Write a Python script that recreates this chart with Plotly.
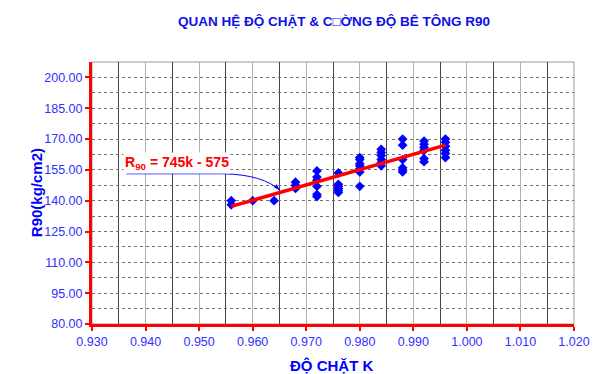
import plotly.graph_objects as go

# Compaction (K) vs 90-day concrete strength R90 (kg/cm2)
k_values = [0.956, 0.956,
            0.960,
            0.964,
            0.968, 0.968, 0.968,
            0.972, 0.972, 0.972, 0.972, 0.972, 0.972,
            0.976, 0.976, 0.976, 0.976, 0.976, 0.976,
            0.980, 0.980, 0.980, 0.980, 0.980, 0.980, 0.980,
            0.984, 0.984, 0.984, 0.984, 0.984, 0.984,
            0.988, 0.988, 0.988, 0.988, 0.988, 0.988,
            0.992, 0.992, 0.992, 0.992, 0.992, 0.992,
            0.996, 0.996, 0.996, 0.996, 0.996, 0.996]
r90_values = [140.0, 138.0,
              140.0,
              140.0,
              149.0, 147.5, 146.0,
              154.5, 151.5, 150.0, 147.0, 143.0, 142.0,
              153.5, 148.0, 147.0, 146.0, 145.0, 144.0,
              161.0, 160.0, 158.0, 157.0, 155.5, 154.0, 147.0,
              165.0, 163.5, 162.0, 160.0, 158.5, 157.0,
              170.0, 167.0, 160.0, 156.0, 155.0, 154.0,
              169.0, 167.5, 166.0, 164.5, 160.5, 159.0,
              170.0, 168.5, 166.5, 164.5, 163.0, 161.0]

# Linear trend R90 = 745k - 575
slope = 745
intercept = -575
trend_k = [min(k_values), max(k_values)]
trend_r = [slope * k + intercept for k in trend_k]

x_ticks = [0.930, 0.940, 0.950, 0.960, 0.970, 0.980, 0.990, 1.000, 1.010, 1.020]
y_ticks = [80, 95, 110, 125, 140, 155, 170, 185, 200]

title_text = "QUAN HỆ ĐỘ CHẶT & C\u25a1ỜNG ĐỘ BÊ TÔNG R90"
x_title = "ĐỘ CHẶT K"
y_title = "R90(kg/cm2)"
eq_text = "R<sub>90</sub> = 745k - 575"

FONT = "Liberation Sans, Arial, sans-serif"
BLUE = "#0000FF"
TICK_BLUE = "#3030FF"
RED = "#FF0000"

fig = go.Figure()
fig.add_trace(go.Scatter(
    x=k_values, y=r90_values, mode="markers",
    marker=dict(symbol="diamond", size=7.5, color=BLUE, line=dict(width=0)),
    showlegend=False, cliponaxis=False,
))
fig.add_trace(go.Scatter(
    x=trend_k, y=trend_r, mode="lines",
    line=dict(color=RED, width=3.5),
    showlegend=False,
))

# curved leader from the equation label to the trend line
x0, y0 = 0.9364, 153.1
x1 = 0.9546
cx, cy = 0.9620, 152.6
x2, y2 = 0.9651, 145.0
fig.add_shape(type="path", xref="x", yref="y",
              path=f"M {x0},{y0} L {x1},{y0} Q {cx},{cy} {x2},{y2}",
              line=dict(color=BLUE, width=1))
# arrowhead at the end of the leader, pointing down-right
fig.add_trace(go.Scatter(
    x=[x2], y=[y2], mode="markers",
    marker=dict(symbol="arrow", size=7, angle=135, color=BLUE, line=dict(width=0)),
    showlegend=False, hoverinfo="skip",
))

fig.add_annotation(x=0.9459, y=158.3, xref="x", yref="y", text=eq_text,
                   showarrow=False, xanchor="center", yanchor="middle",
                   bgcolor="white",
                   font=dict(family=FONT, size=14, color=RED, weight="bold"))

# axis titles
fig.add_annotation(x=-0.1376, y=0.5, xref="paper", yref="paper", text=y_title,
                   textangle=-90, showarrow=False,
                   font=dict(family=FONT, size=15, color=BLUE, weight="bold"))
fig.add_annotation(x=0.497, y=-0.158, xref="paper", yref="paper", text=x_title,
                   showarrow=False, yanchor="middle",
                   font=dict(family=FONT, size=15, color=BLUE, weight="bold"))

# plot-area border
fig.add_shape(type="rect", xref="paper", yref="paper", x0=0, y0=0, x1=1, y1=1,
              line=dict(color="#9a9a9a", width=1), layer="below")

fig.update_layout(
    width=602, height=374,
    margin=dict(l=92, r=23, t=62, b=50),
    paper_bgcolor="white", plot_bgcolor="white",
    title=dict(text=title_text, x=334 / 602, xanchor="center", xref="container",
               y=1 - 21 / 374, yanchor="middle", yref="container",
               font=dict(family=FONT, size=13.5, color="#1010E8", weight="bold")),
    font=dict(family=FONT),
)
fig.update_xaxes(
    range=[0.930, 1.020], tickvals=x_ticks, tickformat=".3f",
    showline=True, linecolor=RED, linewidth=3,
    ticks="outside", ticklen=4, tickwidth=2, tickcolor=RED,
    tickfont=dict(family=FONT, size=12.5, color=TICK_BLUE),
    showgrid=True, gridcolor="#b0b0b0", gridwidth=1,
    minor=dict(dtick=0.005, tick0=0.930, showgrid=True, gridcolor="#444444",
               gridwidth=1, ticks=""),
    zeroline=False,
)
fig.update_yaxes(
    range=[80, 207.5], tickvals=y_ticks, tickformat=".2f",
    showline=True, linecolor=RED, linewidth=3,
    ticks="outside", ticklen=4, tickwidth=2, tickcolor=RED,
    tickfont=dict(family=FONT, size=12.5, color=TICK_BLUE),
    showgrid=True, gridcolor="#707070", gridwidth=1, griddash="dot",
    minor=dict(dtick=7.5, tick0=80, showgrid=True, gridcolor="#707070",
               gridwidth=1, griddash="dot", ticks=""),
    zeroline=False,
)

fig.write_html("out.html")
